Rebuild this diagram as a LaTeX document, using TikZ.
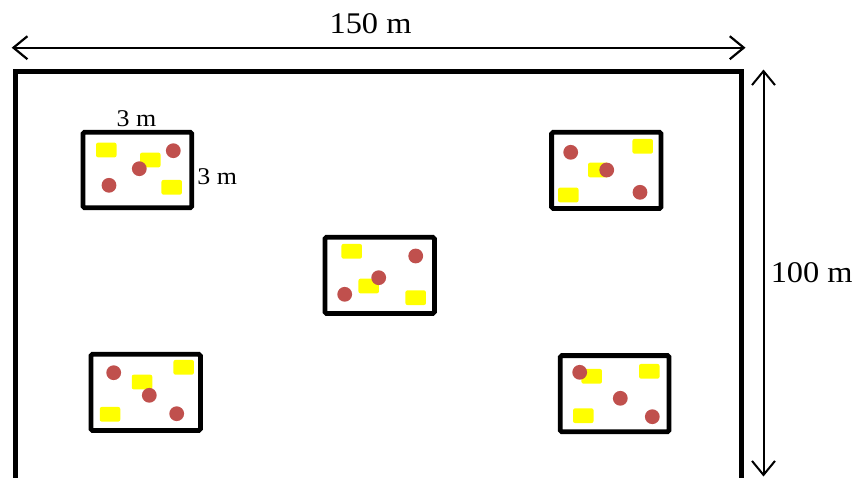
\documentclass[tikz,border=0pt]{standalone}
\usepackage{fontspec}
\setmainfont{Liberation Serif}
\usetikzlibrary{arrows.meta}
\definecolor{dotred}{HTML}{C0504D}
\definecolor{padyellow}{HTML}{FFFF00}
\tikzset{
  plotbox/.style={draw=black, line width=4.8pt, rounded corners=1.5pt},
  pad/.style={fill=padyellow, rounded corners=2pt, minimum width=20.5pt, minimum height=14.7pt, inner sep=0pt},
  dot/.style={circle, fill=dotred, minimum size=14.8pt, inner sep=0pt},
  bigtxt/.style={inner sep=0pt, font=\fontsize{30}{32}\selectfont},
  smalltxt/.style={inner sep=0pt, font=\fontsize{24}{26}\selectfont},
  dim/.style={line width=#1, {Straight Barb[length=14pt,width=23pt]}-{Straight Barb[length=14pt,width=23pt]}}
}
\begin{document}
\begin{tikzpicture}[x=1pt,y=-1pt]
\useasboundingbox (0,0) rectangle (854,477);
\fill[white] (0,0) rectangle (854,477);
\begin{scope}
\clip (0,0) rectangle (854,477);
% field
\coordinate (fA) at (15.5,71.7);
\coordinate (fB) at (741.8,490);
\draw[line width=5pt] (fA) rectangle (fB);
% dimension arrows
\coordinate (hL) at (11.7,47.7);
\coordinate (hR) at (745.5,47.7);
\draw[dim=2.2pt] (hL) -- (hR);
\coordinate (vT) at (763.5,69.5);
\coordinate (vB) at (763.5,476.5);
\draw[dim=2pt] (vT) -- (vB);
\end{scope}
\node[bigtxt] (w) at (370.5,23.3) {\scalebox{1.08}[1]{150 m}};
\node[bigtxt] (h) at (811.7,272.5) {\scalebox{1.08}[1]{100 m}};

% plot 1
\node[smalltxt] (p1w) at (136.5,118.5) {\scalebox{1.08}[1]{3 m}};
\node[smalltxt] (p1h) at (217.2,176.3) {\scalebox{1.08}[1]{3 m}};
\draw[plotbox] (83,132.3) rectangle (191.7,207.7);
\node[pad] (p1y1) at (106.3,150) {};
\node[pad] (p1y2) at (150.3,160) {};
\node[pad] (p1y3) at (171.7,187.3) {};
\node[dot] (p1r1) at (173.3,150.7) {};
\node[dot] (p1r2) at (139.3,168.7) {};
\node[dot] (p1r3) at (109,185.3) {};

% plot 2
\draw[plotbox] (551.6,132.3) rectangle (661,208.4);
\node[pad] (p2y1) at (642.7,146.3) {};
\node[pad] (p2y2) at (598.3,170) {};
\node[pad] (p2y3) at (568.3,195) {};
\node[dot] (p2r1) at (570.7,152.3) {};
\node[dot] (p2r2) at (606.7,170) {};
\node[dot] (p2r3) at (640,192.3) {};

% plot 3
\draw[plotbox] (325,237.3) rectangle (434.4,313.4);
\node[pad] (p3y1) at (351.7,251.3) {};
\node[pad] (p3y2) at (368.7,286) {};
\node[pad] (p3y3) at (415.7,297.7) {};
\node[dot] (p3r1) at (415.7,256) {};
\node[dot] (p3r2) at (378.7,277.7) {};
\node[dot] (p3r3) at (344.7,294.3) {};

% plot 4
\draw[plotbox] (91,354.3) rectangle (200.4,430.4);
\node[pad] (p4y1) at (183.7,367.3) {};
\node[pad] (p4y2) at (142,382) {};
\node[pad] (p4y3) at (110,414.3) {};
\node[dot] (p4r1) at (113.7,372.7) {};
\node[dot] (p4r2) at (149.3,395.3) {};
\node[dot] (p4r3) at (176.7,413.7) {};

% plot 5
\draw[plotbox] (560.3,355.6) rectangle (669,431.7);
\node[pad] (p5y1) at (591.7,376.3) {};
\node[pad] (p5y2) at (649.3,371.3) {};
\node[pad] (p5y3) at (583.3,415.7) {};
\node[dot] (p5r1) at (579.7,372.3) {};
\node[dot] (p5r2) at (620.3,398.3) {};
\node[dot] (p5r3) at (652.3,416.7) {};
\end{tikzpicture}
\end{document}
